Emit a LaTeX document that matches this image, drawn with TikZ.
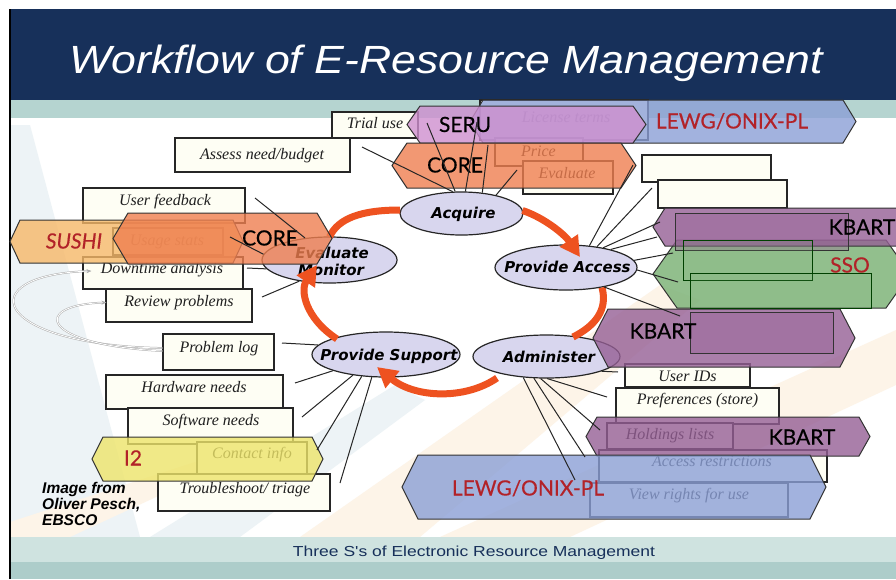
\documentclass[tikz,border=0pt]{standalone}
\usepackage{fontspec}
\usepackage{graphicx}
\setmainfont{Liberation Serif}
\newfontfamily\arialf{Liberation Sans}
\newfontfamily\gillf{Lato}[FakeBold=0.4]
\newfontfamily\dejaf{DejaVu Sans}[BoldFont=DejaVu Sans Bold, ItalicFont=DejaVu Sans Oblique, BoldItalicFont=DejaVu Sans Bold Oblique]
\usetikzlibrary{shapes.geometric,arrows.meta,fit,calc}
\definecolor{navy}{HTML}{17305A}
\definecolor{teal1}{HTML}{B5D4D0}
\definecolor{teal2}{HTML}{CFE3E0}
\definecolor{teal3}{HTML}{ADCDCA}
\definecolor{boxfill}{HTML}{FEFEF4}
\definecolor{ellfill}{HTML}{D8D6EE}
\definecolor{arrorange}{HTML}{EE5220}
\definecolor{lewgc}{HTML}{8B9FD6}
\definecolor{seruc}{HTML}{CF8FCF}
\definecolor{corec}{HTML}{EF7F50}
\definecolor{kbartc}{HTML}{955F95}
\definecolor{ssoc}{HTML}{7FB47A}
\definecolor{sushic}{HTML}{F6B868}
\definecolor{i2c}{HTML}{EDE46A}
\definecolor{redt}{HTML}{B22228}
\definecolor{paleblue}{HTML}{EDF3F6}
\definecolor{paleorange}{HTML}{FDF4E8}
\newcommand\myhex[6]{\path[hx,#1] (#2,{(#4+#5)/2}) -- ({#2+#6},#4) -- ({#3-#6},#4) -- (#3,{(#4+#5)/2}) -- ({#3-#6},#5) -- ({#2+#6},#5) -- cycle;}
\tikzset{
 bx/.style={draw=black!85, fill=boxfill, line width=1.2pt, inner sep=0pt},
 bt/.style={inner sep=0pt, text=black!88, font=\fontsize{16}{16}\selectfont\itshape, text height=10.6pt, text depth=0pt},
 ell/.style={ellipse, draw=black!85, fill=ellfill, line width=1.2pt, inner sep=0pt},
 et/.style={inner sep=0pt, font=\dejaf\bfseries\itshape\fontsize{15}{17}\selectfont, text height=10.9pt, text depth=0pt},
 ht/.style={inner sep=0pt, font=\gillf\fontsize{21}{21}\selectfont, text height=15pt, text depth=0pt},
 hx/.style={draw=black!80, line width=1pt, fill opacity=0.8},
 cn/.style={draw=black!85, line width=1pt},
 oarr/.style={draw=arrorange, line width=7pt},
 gcurve/.style={draw=gray!65, line width=0.5pt, double=white, double distance=0.8pt},
}
\begin{document}
\begin{tikzpicture}[x=1pt,y=-1pt]
\useasboundingbox (0,0) rectangle (896,579);
\fill[white] (0,0) rectangle (896,579);
% background swooshes
\fill[paleblue] (10,125) -- (30,125) -- (140,537) -- (10,537) -- cycle;
\fill[paleblue] (150,537) -- (240,537) -- (425,400) -- (395,385) -- cycle;
\fill[paleorange] (10,522) -- (10,537) -- (70,537) -- (210,472) -- (195,462) -- cycle;
\fill[paleorange] (300,537) -- (420,537) -- (700,300) -- (660,285) -- cycle;
\fill[paleorange] (440,537) -- (570,537) -- (896,385) -- (896,330) -- cycle;
% bands
\fill[navy] (10,9) rectangle (896,100);
\fill[teal1] (10,100) rectangle (896,118);
\fill[teal2] (10,537) rectangle (896,562);
\fill[teal3] (10,562) rectangle (896,579);
\draw[line width=1.2pt] (10,9) -- (10,579);
% title and footer
\node[anchor=base west, inner sep=0pt, text=white] (title) at (69,73) {\resizebox{754pt}{28.5pt}{\arialf\itshape\fontsize{40}{40}\selectfont Workflow of E-Resource Management}};
\node[anchor=base, inner sep=0pt, text=navy] (footer) at (474,556) {\resizebox{362pt}{10.5pt}{\arialf\fontsize{14}{14}\selectfont Three S's of Electronic Resource Management}};
\node[anchor=base west, inner sep=0pt, font=\arialf\bfseries\itshape\fontsize{15.5}{16}\selectfont] (cr1) at (42,493) {Image from};
\node[anchor=base west, inner sep=0pt, font=\arialf\bfseries\itshape\fontsize{15.5}{16}\selectfont] (cr2) at (42,509) {Oliver Pesch,};
\node[anchor=base west, inner sep=0pt, font=\arialf\bfseries\itshape\fontsize{15.5}{16}\selectfont] (cr3) at (42,525) {EBSCO};
% boxes
\node[bx, fit={(332,112) (418,138)}] (trial) {};   \node[bt] (trialt) at (375,123) {Trial use};
\node[bx, fit={(175,138) (350,172)}] (assess) {};  \node[bt] (assesst) at (262,154) {Assess need/budget};
\node[bx, fit={(480,100) (648,140)}] (lic) {};     \node[bt] (lict) at (566,117) {License terms};
\node[bx, fit={(495,138) (583,166)}] (price) {};   \node[bt] (pricet) at (538.5,151.5) {Price};
\node[bx, fit={(523,161) (613,194)}] (evb) {};     \node[bt] (evbt) at (567,173) {Evaluate};
\node[bx, fit={(642,155) (771,182)}] (rb1) {};
\node[bx, fit={(658,180) (787,208)}] (rb2) {};
\node[bx, fit={(83,188) (245,223)}] (ufb) {};      \node[bt] (ufbt) at (165,200.5) {User feedback};
\node[bx, fit={(113,228) (223,255)}] (usg) {};     \node[bt] (usgt) at (167,240) {Usage stats};
\node[bx, fit={(83,257) (243,289)}] (dt) {};       \node[bt] (dtt) at (162,268) {Downtime analysis};
\node[bx, fit={(106,289) (252,322)}] (rv) {};      \node[bt] (rvt) at (179,301) {Review problems};
\node[bx, fit={(163,334) (274,370)}] (plog) {};    \node[bt] (plogt) at (219,347.5) {Problem log};
\node[bx, fit={(106,375) (283,409)}] (hw) {};      \node[bt] (hwt) at (194,387) {Hardware needs};
\node[bx, fit={(128,408) (293,444)}] (sw) {};      \node[bt] (swt) at (211,420) {Software needs};
\node[bx, fit={(197,442) (307,474)}] (ci) {};      \node[bt] (cit) at (252,453) {Contact info};
\node[bx, fit={(158,474) (330,511)}] (ts) {};      \node[bt] (tst) at (245,488) {Troubleshoot/ triage};
\node[bx, fit={(625,364) (750,387)}] (uid) {};     \node[bt] (uidt) at (687.5,376) {User IDs};
\node[bx, fit={(616,388) (779,424)}] (pref) {};    \node[bt] (preft) at (697.5,399) {Preferences (store)};
\node[bx, fit={(607,423) (733,449)}] (hold) {};    \node[bt] (holdt) at (670,434) {Holdings lists};
\node[bx, fit={(599,450) (827,482)}] (acr) {};     \node[bt] (acrt) at (712,461) {Access restrictions};
\node[bx, fit={(590,483) (788,517)}] (vr) {};      \node[bt] (vrt) at (689,494) {View rights for use};
% ellipses
\node[ell, minimum width=123pt, minimum height=43pt] (acq) at (461.5,213.5) {};
\node[ell, minimum width=142pt, minimum height=45pt] (acc) at (566,267.5) {};
\node[ell, minimum width=135pt, minimum height=46pt] (evm) at (329.5,260) {};
\node[ell, minimum width=148pt, minimum height=45pt] (sup) at (386,354.5) {};
\node[ell, minimum width=147pt, minimum height=43pt] (adm) at (546.5,356.5) {};
\node[et] (acqt) at (463.5,213) {Acquire};
\node[et] (acct) at (567.5,267.5) {Provide Access};
\node[et] (evmt1) at (332,253) {Evaluate};
\node[et] (evmt2) at (331,270) {Monitor};
\node[et] (supt) at (389,355) {Provide Support};
\node[et] (admt) at (549,357) {Administer};
% orange cycle
\draw[oarr, -{Triangle[length=20pt,width=21pt]}] ($(acq)+(61,-3)$) .. controls (545,218) and (565,235) .. ($(acc)+(14,-10.5)$);
\draw[oarr] ($(acc)+(36,20)$) .. controls (608,310) and (595,326) .. ($(adm)+(26.5,-19.5)$);
\draw[oarr, -{Triangle[length=20pt,width=21pt]}] ($(adm)+(-49.5,21.5)$) .. controls (465,400) and (415,398) .. ($(sup)+(-9,12.5)$);
\draw[oarr, -{Triangle[length=20pt,width=21pt]}] ($(sup)+(-49,-15.5)$) .. controls (305,318) and (300,290) .. ($(evm)+(-12.5,5)$);
\draw[oarr] ($(evm)+(0,-23)$) .. controls (338,218) and (362,210) .. ($(acq)+(-61.5,-3.5)$);
% hexagons
\myhex{fill=lewgc}{470}{856}{100}{143}{13}
\myhex{fill=seruc}{407}{646}{106}{143}{13}
\myhex{fill=corec}{392}{636}{143}{188}{15}
\myhex{fill=ssoc, fill opacity=0.85}{653}{910}{240}{308}{24}
\myhex{fill=kbartc}{653}{910}{208}{246}{12}
\myhex{fill=kbartc}{593}{855}{309}{367}{15}
\myhex{fill=kbartc}{586}{870}{417}{456}{11}
\myhex{fill=lewgc}{402}{826}{455}{519}{16}
\myhex{fill=sushic}{10}{243}{220}{263}{10}
\myhex{fill=corec}{113}{332}{213}{264}{15}
\myhex{fill=i2c}{92}{323}{437}{481}{11}
% inner layered rectangles
\path[hx, fill=kbartc, fill opacity=0.35] (675,213) rectangle (848,250);
\path[hx, draw=green!25!black, fill=ssoc, fill opacity=0.15] (683,240) rectangle (812,280);
\path[hx, draw=green!25!black, fill=ssoc, fill opacity=0.15] (690,273) rectangle (871,308);
\path[hx, fill=kbartc, fill opacity=0.35] (690,312) rectangle (833,353);
% hexagon labels
\node[ht] (seru) at (465,124.5) {SERU};
\node[ht, text=redt] (lewg1) at (732,121) {LEWG/ONIX-PL};
\node[ht] (core1) at (455,165) {CORE};
\node[ht] (kb1) at (862,227) {KBART};
\node[ht, text=redt] (sso) at (850,265) {SSO};
\node[ht] (kb2) at (663,331) {KBART};
\node[ht] (kb3) at (802,437) {KBART};
\node[ht, text=redt] (lewg2) at (528,488) {LEWG/ONIX-PL};
\node[ht, text=redt, font=\gillf\itshape\fontsize{21}{21}\selectfont] (sushi) at (74,241) {SUSHI};
\node[ht] (core2) at (270,238) {CORE};
\node[ht, text=redt] (i2) at (133,458) {I2};
% connector free ends
\coordinate (a1) at (362,147); \coordinate (a2) at (427,123); \coordinate (a3) at (477,122);
\coordinate (a4) at (488,145); \coordinate (a5) at (517,170);
\coordinate (p1) at (633,165); \coordinate (p2) at (652,188); \coordinate (p3) at (660,222);
\coordinate (p4) at (657,237); \coordinate (p5) at (673,253); \coordinate (p6) at (678,282);
\coordinate (p7) at (680,316);
\coordinate (e1) at (255,198); \coordinate (e2) at (230,237); \coordinate (e3) at (247,268);
\coordinate (e4) at (262,297);
\coordinate (s1) at (282,343); \coordinate (s2) at (295,383); \coordinate (s3) at (302,417);
\coordinate (s4) at (317,450); \coordinate (s5) at (340,483);
\coordinate (d1) at (618,372); \coordinate (d2) at (607,397); \coordinate (d3) at (600,430);
\coordinate (d4) at (585,457); \coordinate (d5) at (575,480);
% connectors
\draw[cn] (a1) -- (acq.112); \draw[cn] (a2) -- (acq.106); \draw[cn] (a3) -- (acq.80);
\draw[cn] (a4) -- (acq.45); \draw[cn] (a5) -- (acq.28);
\draw[cn] (p1) -- (acc.43); \draw[cn] (p2) -- (acc.34); \draw[cn] (p3) -- (acc.28);
\draw[cn] (p4) -- (acc.22); \draw[cn] (p5) -- (acc.6); \draw[cn] (p6) -- (acc.-2);
\draw[cn] (p7) -- (acc.-27);
\draw[cn] (e1) -- (evm.138); \draw[cn] (e2) -- (evm.175); \draw[cn] (e3) -- (evm.-172);
\draw[cn] (e4) -- (evm.-145);
\draw[cn] (s1) -- (sup.172); \draw[cn] (s2) -- (sup.-163); \draw[cn] (s3) -- (sup.-148);
\draw[cn] (s4) -- (sup.-138); \draw[cn] (s5) -- (sup.-122);
\draw[cn] (d1) -- (adm.-15); \draw[cn] (d2) -- (adm.-88); \draw[cn] (d3) -- (adm.-105);
\draw[cn] (d4) -- (adm.-120); \draw[cn] (d5) -- (adm.-138);
% grey feedback curves
\draw[gcurve, -{Stealth[length=5pt,width=4pt]}] ($(plog.west)+(0,-4)$) .. controls (-10,345) and (-30,275) .. ($(dt.west)+(9,-2)$);
\draw[gcurve, -{Stealth[length=5pt,width=4pt]}] ($(plog.west)+(0,-1)$) .. controls (40,345) and (30,305) .. ($(rv.west)+(1,-3)$);
\end{tikzpicture}
\end{document}
